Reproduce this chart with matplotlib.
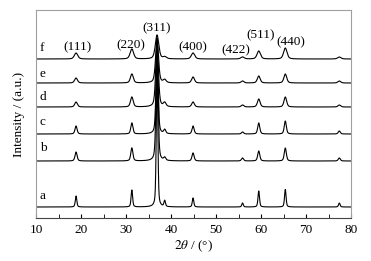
import numpy as np
import matplotlib
matplotlib.use("Agg")
import matplotlib.pyplot as plt
from matplotlib.ticker import MultipleLocator

plt.rcParams['font.family'] = ['Liberation Serif', 'DejaVu Serif']
plt.rcParams['mathtext.fontset'] = 'stix'

# Peak positions (2theta, degrees)
peak_pos = [18.9, 31.3, 36.9, 38.6, 44.9, 55.9, 59.5, 65.4, 77.4]
# Peak heights per sample (a.u.) in order of peak_pos
heights_a = [11, 17, 140, 6, 9, 4, 16, 17.5, 4]
heights_b = [9, 13, 110, 3, 8, 3, 10, 13, 3]
heights_c = [8, 11, 85, 4, 8, 2, 11, 13, 3]
heights_d = [5, 10, 65, 4, 5, 2, 8, 10, 2]
heights_e = [5, 9, 45, 3, 6, 2, 7, 9, 2]
heights_f = [6, 10, 24, 2, 6, 2, 8, 11, 2]
# Peak widths (FWHM, degrees) per sample
widths = {'a': 0.4, 'b': 0.55, 'c': 0.55, 'd': 0.7, 'e': 0.75, 'f': 0.9}
# Vertical offsets (baselines)
offsets = {'a': 11, 'b': 57, 'c': 84, 'd': 111, 'e': 135, 'f': 159}
sample_labels = ['a', 'b', 'c', 'd', 'e', 'f']
label_y = {'a': 22, 'b': 70, 'c': 96, 'd': 121, 'e': 144, 'f': 170}

hkl_labels = ['(111)', '(220)', '(311)', '(400)', '(422)', '(511)', '(440)']
hkl_x = [19.3, 31.1, 36.9, 44.9, 54.4, 60.0, 66.6]
hkl_y = [171, 173, 190, 171, 168, 183, 176]

heights = {'a': heights_a, 'b': heights_b, 'c': heights_c,
           'd': heights_d, 'e': heights_e, 'f': heights_f}

x = np.linspace(10, 80, 3500)
eta = 0.45  # Lorentzian fraction of pseudo-Voigt profile

fig = plt.figure(figsize=(3.71, 2.61), dpi=100)
ax = fig.add_axes([36/371, 1 - 218/261, 315/371, 208/261])

for s in sample_labels:
    w = widths[s] / 2
    y = np.zeros_like(x)
    for p, h in zip(peak_pos, heights[s]):
        lor = w**2 / ((x - p)**2 + w**2)
        gau = np.exp(-np.log(2) * ((x - p) / w)**2)
        y += h * (eta * lor + (1 - eta) * gau)
    ax.plot(x, y + offsets[s], color='black', lw=0.8)
    ax.text(10.8, label_y[s], s, fontsize=9.5, ha='left', va='center')

for t, xx, yy in zip(hkl_labels, hkl_x, hkl_y):
    ax.text(xx, yy, t, fontsize=9.5, ha='center', va='center')

ax.set_xlim(10, 80)
ax.set_ylim(0, 208)
ax.set_yticks([])
ax.xaxis.set_major_locator(MultipleLocator(10))
ax.xaxis.set_minor_locator(MultipleLocator(5))
ax.tick_params(axis='x', which='both', direction='in', labelsize=9.5, pad=4)
ax.tick_params(axis='x', which='major', length=3)
ax.tick_params(axis='x', which='minor', length=3)
for sp in ['top', 'right', 'left']:
    ax.spines[sp].set_color('#a0a0a0')
    ax.spines[sp].set_linewidth(0.8)
ax.spines['bottom'].set_color('#444444')
ax.spines['bottom'].set_linewidth(0.8)

ax.set_ylabel('Intensity / (a.u.)', fontsize=9.5, labelpad=8)
ax.set_xlabel(r'$\mathit{2\theta}$ / (°)', fontsize=9.5, labelpad=2)

fig.savefig('out.png', dpi=100)
